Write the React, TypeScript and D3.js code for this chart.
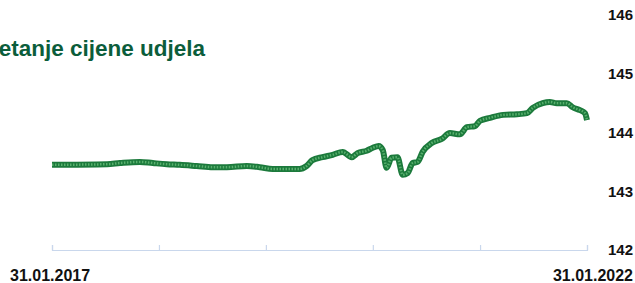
import React, { useEffect, useRef } from "react";
import * as d3 from "d3";

// unit price
const dates = [
  "2017-01-31", "2017-08-07", "2017-09-20", "2017-11-27", "2018-01-10", "2018-02-27",
  "2018-04-12", "2018-06-09", "2018-08-03", "2018-09-20", "2018-11-27", "2019-01-10",
  "2019-02-23", "2019-05-26", "2019-06-19", "2019-07-09", "2019-08-12", "2019-09-16",
  "2019-10-20", "2019-11-20", "2019-12-10", "2020-01-10", "2020-01-31", "2020-02-20",
  "2020-03-05", "2020-03-18", "2020-04-04", "2020-04-24", "2020-05-12", "2020-05-29",
  "2020-06-15", "2020-07-02", "2020-07-19", "2020-08-19", "2020-09-22", "2020-10-20",
  "2020-11-23", "2020-12-17", "2021-01-14", "2021-01-31", "2021-03-06", "2021-04-20",
  "2021-06-06", "2021-07-10", "2021-07-30", "2021-09-02", "2021-09-26", "2021-10-20",
  "2021-11-23", "2021-12-13", "2022-01-07", "2022-01-24", "2022-01-31",
];
const prices = [
  143.45, 143.46, 143.48, 143.5, 143.48, 143.46,
  143.45, 143.43, 143.41, 143.41, 143.43, 143.41,
  143.38, 143.38, 143.43, 143.53, 143.58, 143.62,
  143.67, 143.58, 143.65, 143.69, 143.74, 143.77,
  143.7, 143.4, 143.57, 143.58, 143.28, 143.31,
  143.48, 143.5, 143.67, 143.82, 143.89, 143.99,
  143.97, 144.09, 144.11, 144.2, 144.25, 144.3,
  144.31, 144.33, 144.42, 144.5, 144.52, 144.5,
  144.5, 144.43, 144.38, 144.33, 144.21,
];
const yTicks = [142, 143, 144, 145, 146];
const startLabel = "31.01.2017";
const endLabel = "31.01.2022";
const title = "Kretanje cijene udjela";

const W = 635;
const H = 283;

const App: React.FC = () => {
  const ref = useRef<SVGSVGElement | null>(null);

  useEffect(() => {
    if (!ref.current) return;
    const svg = d3.select(ref.current);
    svg.selectAll("*").remove();

    const parse = d3.timeParse("%Y-%m-%d");
    const data = dates.map((d, i) => ({ date: parse(d) as Date, value: prices[i] }));

    const x = d3
      .scaleTime()
      .domain([parse("2017-01-31") as Date, parse("2022-01-31") as Date])
      .range([52, 587]);
    const y = d3.scaleLinear().domain([142, 146]).range([250, 15]);

    // x axis: light line with ticks pointing up
    const yearTicks = d3.range(2017, 2023).map((yr) => parse(`${yr}-01-31`) as Date);
    const xAxis = svg
      .append("g")
      .attr("transform", `translate(0, ${y(142)})`)
      .call(
        d3
          .axisBottom(x)
          .tickValues(yearTicks)
          .tickSize(-5)
          .tickFormat(() => "")
      );
    xAxis.selectAll("path, line").attr("stroke", "#c9d7ec").attr("stroke-width", 1.2);

    // y labels on the right
    const yAxis = svg
      .append("g")
      .attr("transform", `translate(633, 0)`)
      .call(
        d3
          .axisLeft(y)
          .tickValues(yTicks)
          .tickSize(0)
          .tickPadding(0)
          .tickFormat(d3.format("d"))
      );
    yAxis.select(".domain").remove();
    yAxis
      .selectAll("text")
      .attr("text-anchor", "end")
      .attr("fill", "#111")
      .style("font-family", "'Liberation Sans', Arial, sans-serif")
      .style("font-weight", "bold")
      .style("font-size", "15px");

    // date labels
    svg
      .append("text")
      .attr("x", 10)
      .attr("y", 281)
      .attr("fill", "#111")
      .style("font-family", "'Liberation Sans', Arial, sans-serif")
      .style("font-weight", "bold")
      .style("font-size", "16px")
      .text(startLabel);
    svg
      .append("text")
      .attr("x", 633)
      .attr("y", 281)
      .attr("text-anchor", "end")
      .attr("fill", "#111")
      .style("font-family", "'Liberation Sans', Arial, sans-serif")
      .style("font-weight", "bold")
      .style("font-size", "16px")
      .text(endLabel);

    // title, cut off at the left edge as in the source
    svg
      .append("text")
      .attr("x", 205)
      .attr("y", 56)
      .attr("text-anchor", "end")
      .attr("fill", "#0b5d3b")
      .style("font-family", "'Liberation Sans', Arial, sans-serif")
      .style("font-weight", "bold")
      .style("font-size", "22.5px")
      .text(title);

    const line = d3
      .line<{ date: Date; value: number }>()
      .x((d) => x(d.date))
      .y((d) => y(d.value))
      .curve(d3.curveMonotoneX);

    svg
      .append("path")
      .datum(data)
      .attr("fill", "none")
      .attr("stroke", "#1c7a3c")
      .attr("stroke-width", 6)
      .attr("stroke-linejoin", "round")
      .attr("d", line);
    svg
      .append("path")
      .datum(data)
      .attr("fill", "none")
      .attr("stroke", "#58b06d")
      .attr("stroke-width", 2.5)
      .attr("stroke-dasharray", "1.5 1.5")
      .attr("d", line);
  }, []);

  return (
    <svg
      ref={ref}
      width={W}
      height={H}
      style={{ position: "fixed", left: 0, top: 0, background: "#fff" }}
    />
  );
};

export default App;
